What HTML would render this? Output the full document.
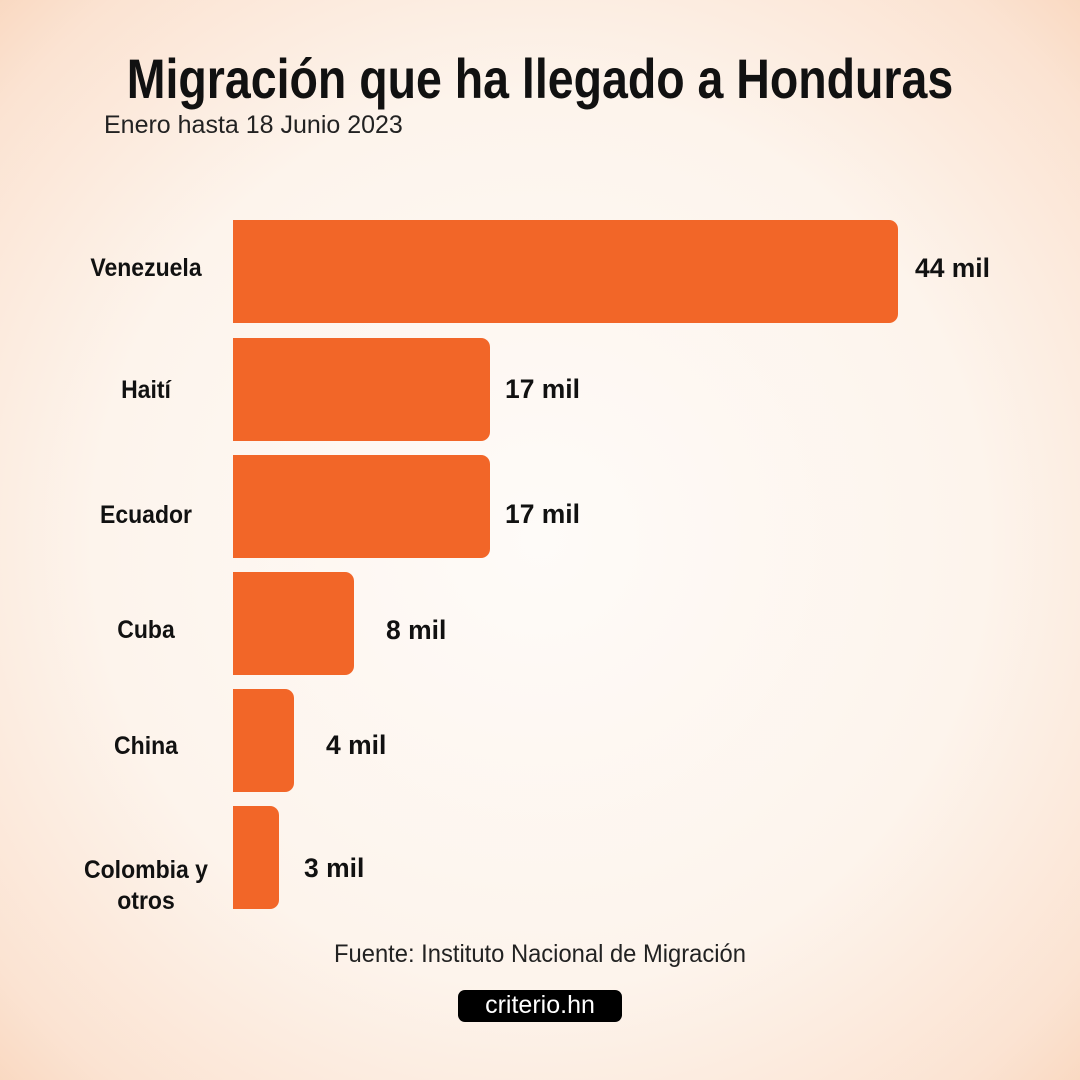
<!DOCTYPE html>
<html><head><meta charset="utf-8"><style>
html,body{margin:0;padding:0}
body{width:1080px;height:1080px;position:relative;overflow:hidden;
background:radial-gradient(ellipse 75% 75% at 50% 50%,#fefbf8 0%,#fdf4ec 55%,#fbe3d2 85%,#f8d3b8 100%);
font-family:"Liberation Sans",sans-serif;color:#111}
.t{position:absolute;left:0;width:1080px;text-align:center;top:46px;font-size:56px;font-weight:bold;transform:scaleX(0.83);transform-origin:540px 0}
.s{position:absolute;left:104px;top:111px;font-size:25px;color:#222;white-space:nowrap}
.b{position:absolute;left:233px;background:#f26628;border-radius:0 9px 9px 0;height:103px}
.l{position:absolute;width:150px;left:71px;text-align:center;font-size:25px;font-weight:bold;line-height:31px;white-space:nowrap;transform:scaleX(0.92);transform-origin:75px 0}
.v{position:absolute;font-size:27px;font-weight:bold;white-space:nowrap;transform:scaleX(0.98);transform-origin:0 0}
.f{position:absolute;left:0;width:1080px;text-align:center;top:940px;font-size:25px;color:#222;transform:scaleX(0.95);transform-origin:540px 0}
.logo{position:absolute;left:458px;top:990px;width:164px;height:32px;background:#000;border-radius:7px;color:#fff;text-align:center;font-family:"Liberation Sans",sans-serif;font-size:25px;line-height:31px}
</style></head><body>
<div class="t">Migración que ha llegado a Honduras</div>
<div class="s">Enero hasta 18 Junio 2023</div>
<div class="b" style="top:220px;width:665px"></div>
<div class="b" style="top:338px;width:257px"></div>
<div class="b" style="top:455px;width:257px"></div>
<div class="b" style="top:572px;width:121px"></div>
<div class="b" style="top:689px;width:61px"></div>
<div class="b" style="top:806px;width:46px"></div>
<div class="l" style="top:253px">Venezuela</div>
<div class="l" style="top:375px">Haití</div>
<div class="l" style="top:500px">Ecuador</div>
<div class="l" style="top:615px">Cuba</div>
<div class="l" style="top:731px">China</div>
<div class="l" style="top:855px">Colombia y<br>otros</div>
<div class="v" style="left:915px;top:253px">44 mil</div>
<div class="v" style="left:505px;top:374px">17 mil</div>
<div class="v" style="left:505px;top:499px">17 mil</div>
<div class="v" style="left:386px;top:615px">8 mil</div>
<div class="v" style="left:326px;top:730px">4 mil</div>
<div class="v" style="left:304px;top:853px">3 mil</div>
<div class="f">Fuente: Instituto Nacional de Migración</div>
<div class="logo">criterio.hn</div>
</body></html>
